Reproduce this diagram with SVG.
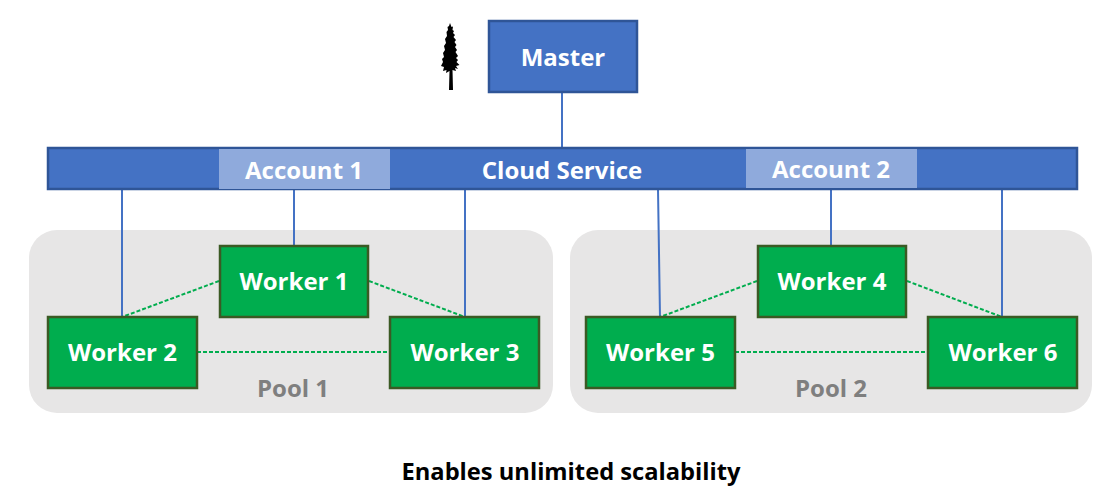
<svg xmlns="http://www.w3.org/2000/svg" width="1118" height="500" viewBox="0 0 1118 500">
<style>
text{font-family:"Open Sans","Noto Sans","Liberation Sans",sans-serif;font-weight:700;text-anchor:middle}
.w{fill:#fff;font-size:24px}
.pool{fill:#e7e6e6}
.pl{fill:#7f7f7f;font-size:24px}
.worker{fill:#00ad4e;stroke:#3b5a24;stroke-width:2.500}
.blue{fill:#4472c4;stroke:#2f5597;stroke-width:2.500}
.acct{fill:#8faadc}
.c{stroke:#4472c4;stroke-width:2;fill:none}
.d{stroke:#00ad4e;stroke-width:2;stroke-dasharray:4 2;fill:none}
</style>
<g id="pool-1"><rect class="pool" x="29" y="230" width="524" height="183" rx="28"/><text class="pl" x="293" y="397">Pool 1</text></g>
<g id="pool-2"><rect class="pool" x="570" y="230" width="522" height="183" rx="28"/><text class="pl" x="831" y="397">Pool 2</text></g>
<g id="connectors">
<path class="c" d="M562 92V148M122 189V317M294 189V246M465 189V317M658 189L660 317M831 189V246M1002 189V317"/>
<path class="d" d="M219 281L122 317M369 281L465 317M197 352H390M757 281L660 317M907 281L1002 317M735 352H928"/>
</g>
<g id="tree" fill="#000">
<path d="M450 23L451.500 27L453 26.500L452.500 30L454 31L453 33L455 35L453.500 37L456 40L454.500 42L456.500 45L455 47L457 50L455.500 52L458 56L456 58L458 60L456.500 62L459.500 65L456 66L458 69L455 68L456 71L452.500 70L453 90H449L449.500 71L446 73L446.500 70L443 71L444 67L441 66L443 62L442 59L444 57L443 53L445 50L444 46L446 43L445 39L447 36L446.500 32L448 30L447.500 27L449 26Z"/>
</g>
<g id="master"><rect class="blue" x="489" y="21" width="148" height="71"/><text class="w" x="563" y="66">Master</text></g>
<g id="cloud-service">
<rect class="blue" x="48" y="148" width="1029" height="41"/>
<rect class="acct" x="219" y="149" width="171" height="40"/>
<rect class="acct" x="746" y="149" width="171" height="39"/>
<text class="w" x="304" y="179">Account 1</text>
<text class="w" x="562" y="179">Cloud Service</text>
<text class="w" x="831" y="178">Account 2</text>
</g>
<g id="worker-1"><rect class="worker" x="220" y="246" width="148" height="71"/><text class="w" x="294" y="290">Worker 1</text></g>
<g id="worker-2"><rect class="worker" x="48" y="317" width="149" height="71"/><text class="w" x="122.500" y="361">Worker 2</text></g>
<g id="worker-3"><rect class="worker" x="390" y="317" width="149" height="71"/><text class="w" x="465" y="361">Worker 3</text></g>
<g id="worker-4"><rect class="worker" x="758" y="246" width="148" height="71"/><text class="w" x="832" y="290">Worker 4</text></g>
<g id="worker-5"><rect class="worker" x="586" y="317" width="149" height="71"/><text class="w" x="660.500" y="361">Worker 5</text></g>
<g id="worker-6"><rect class="worker" x="928" y="317" width="149" height="71"/><text class="w" x="1003" y="361">Worker 6</text></g>
<text x="571" y="480" style="font-size:23.700px;fill:#000">Enables unlimited scalability</text>
</svg>
